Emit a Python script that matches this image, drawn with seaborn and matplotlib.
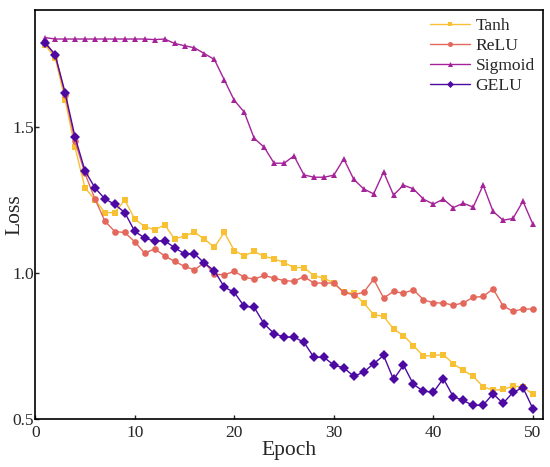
import numpy as np
import pandas as pd
import matplotlib.pyplot as plt
import seaborn as sns

# Loss per epoch for each activation function
epochs = list(range(1, 51))

tanh = [1.78, 1.736, 1.593, 1.429, 1.291, 1.25, 1.206, 1.206, 1.249, 1.184,
        1.158, 1.147, 1.164, 1.116, 1.126, 1.139, 1.115, 1.088, 1.138, 1.076,
        1.058, 1.073, 1.056, 1.048, 1.035, 1.018, 1.018, 0.99, 0.982, 0.965,
        0.933, 0.93, 0.897, 0.857, 0.851, 0.808, 0.785, 0.751, 0.715, 0.717,
        0.72, 0.689, 0.666, 0.646, 0.61, 0.598, 0.601, 0.612, 0.61, 0.584]

relu = [1.79, 1.745, 1.61, 1.45, 1.34, 1.253, 1.177, 1.141, 1.138, 1.106,
        1.067, 1.082, 1.058, 1.039, 1.022, 1.01, 1.035, 0.995, 0.993, 1.005,
        0.985, 0.978, 0.991, 0.982, 0.973, 0.971, 0.987, 0.965, 0.965, 0.965,
        0.933, 0.925, 0.933, 0.978, 0.914, 0.936, 0.93, 0.942, 0.908, 0.897,
        0.897, 0.889, 0.897, 0.916, 0.919, 0.945, 0.887, 0.868, 0.876, 0.876]

sigmoid = [1.805, 1.80, 1.80, 1.80, 1.80, 1.80, 1.80, 1.80, 1.80, 1.80,
           1.80, 1.798, 1.80, 1.785, 1.777, 1.77, 1.75, 1.73, 1.66, 1.59,
           1.55, 1.46, 1.43, 1.375, 1.375, 1.40, 1.335, 1.327, 1.327, 1.334,
           1.39, 1.32, 1.287, 1.27, 1.345, 1.266, 1.30, 1.287, 1.252, 1.235,
           1.252, 1.223, 1.238, 1.225, 1.30, 1.21, 1.18, 1.186, 1.245, 1.166]

gelu = [1.786, 1.747, 1.617, 1.465, 1.349, 1.291, 1.253, 1.234, 1.206, 1.142,
        1.119, 1.108, 1.11, 1.086, 1.065, 1.065, 1.033, 1.007, 0.951, 0.933,
        0.885, 0.882, 0.825, 0.792, 0.78, 0.78, 0.762, 0.711, 0.711, 0.684,
        0.675, 0.646, 0.66, 0.689, 0.717, 0.635, 0.684, 0.618, 0.595, 0.591,
        0.638, 0.576, 0.563, 0.546, 0.547, 0.586, 0.553, 0.591, 0.607, 0.535]

names = ['Tanh', 'ReLU', 'Sigmoid', 'GELU']
colors = ['#F8C133', '#E3685B', '#A52399', '#4C0AA3']
markers = ['s', 'o', '^', 'D']

df = pd.DataFrame({'Epoch': epochs, 'Tanh': tanh, 'ReLU': relu,
                   'Sigmoid': sigmoid, 'GELU': gelu})
long_df = df.melt(id_vars='Epoch', var_name='Activation', value_name='Loss')

sns.set_style("ticks")
plt.rcParams['font.family'] = ['Liberation Serif', 'DejaVu Serif']

fig = plt.figure(figsize=(5.5, 4.67), dpi=100)
ax = fig.add_axes([0.064, 0.103, 0.923, 0.876])

sns.lineplot(data=long_df, x='Epoch', y='Loss', hue='Activation', style='Activation',
             hue_order=names, style_order=names, palette=colors, markers=markers,
             dashes=False, markersize=4.8, markeredgewidth=0, linewidth=1.0,
             ax=ax)

ax.set_xlim(0, 51)
ax.set_ylim(0.5, 1.9)
ax.set_xticks([0, 10, 20, 30, 40, 50])
ax.set_yticks([0.5, 1.0, 1.5])
ax.tick_params(direction='in', length=3, width=1, labelsize=12.5, pad=1)
ax.tick_params(axis='x', pad=4.5)
for s in ax.spines.values():
    s.set_linewidth(1.2)
    s.set_color('black')
ax.set_xlabel('Epoch', fontsize=15.5, labelpad=0)
ax.set_ylabel('Loss', fontsize=15.5)
ax.yaxis.set_label_coords(-0.022, 0.5)

leg = ax.legend(loc='upper right', frameon=False, fontsize=12.6,
                handlelength=2.3, labelspacing=0.22, borderaxespad=0.25,
                borderpad=0.2, handletextpad=0.3, markerscale=0.75)
for h in leg.get_lines():
    h.set_linewidth(1.0)

plt.savefig('out.png', dpi=100)
